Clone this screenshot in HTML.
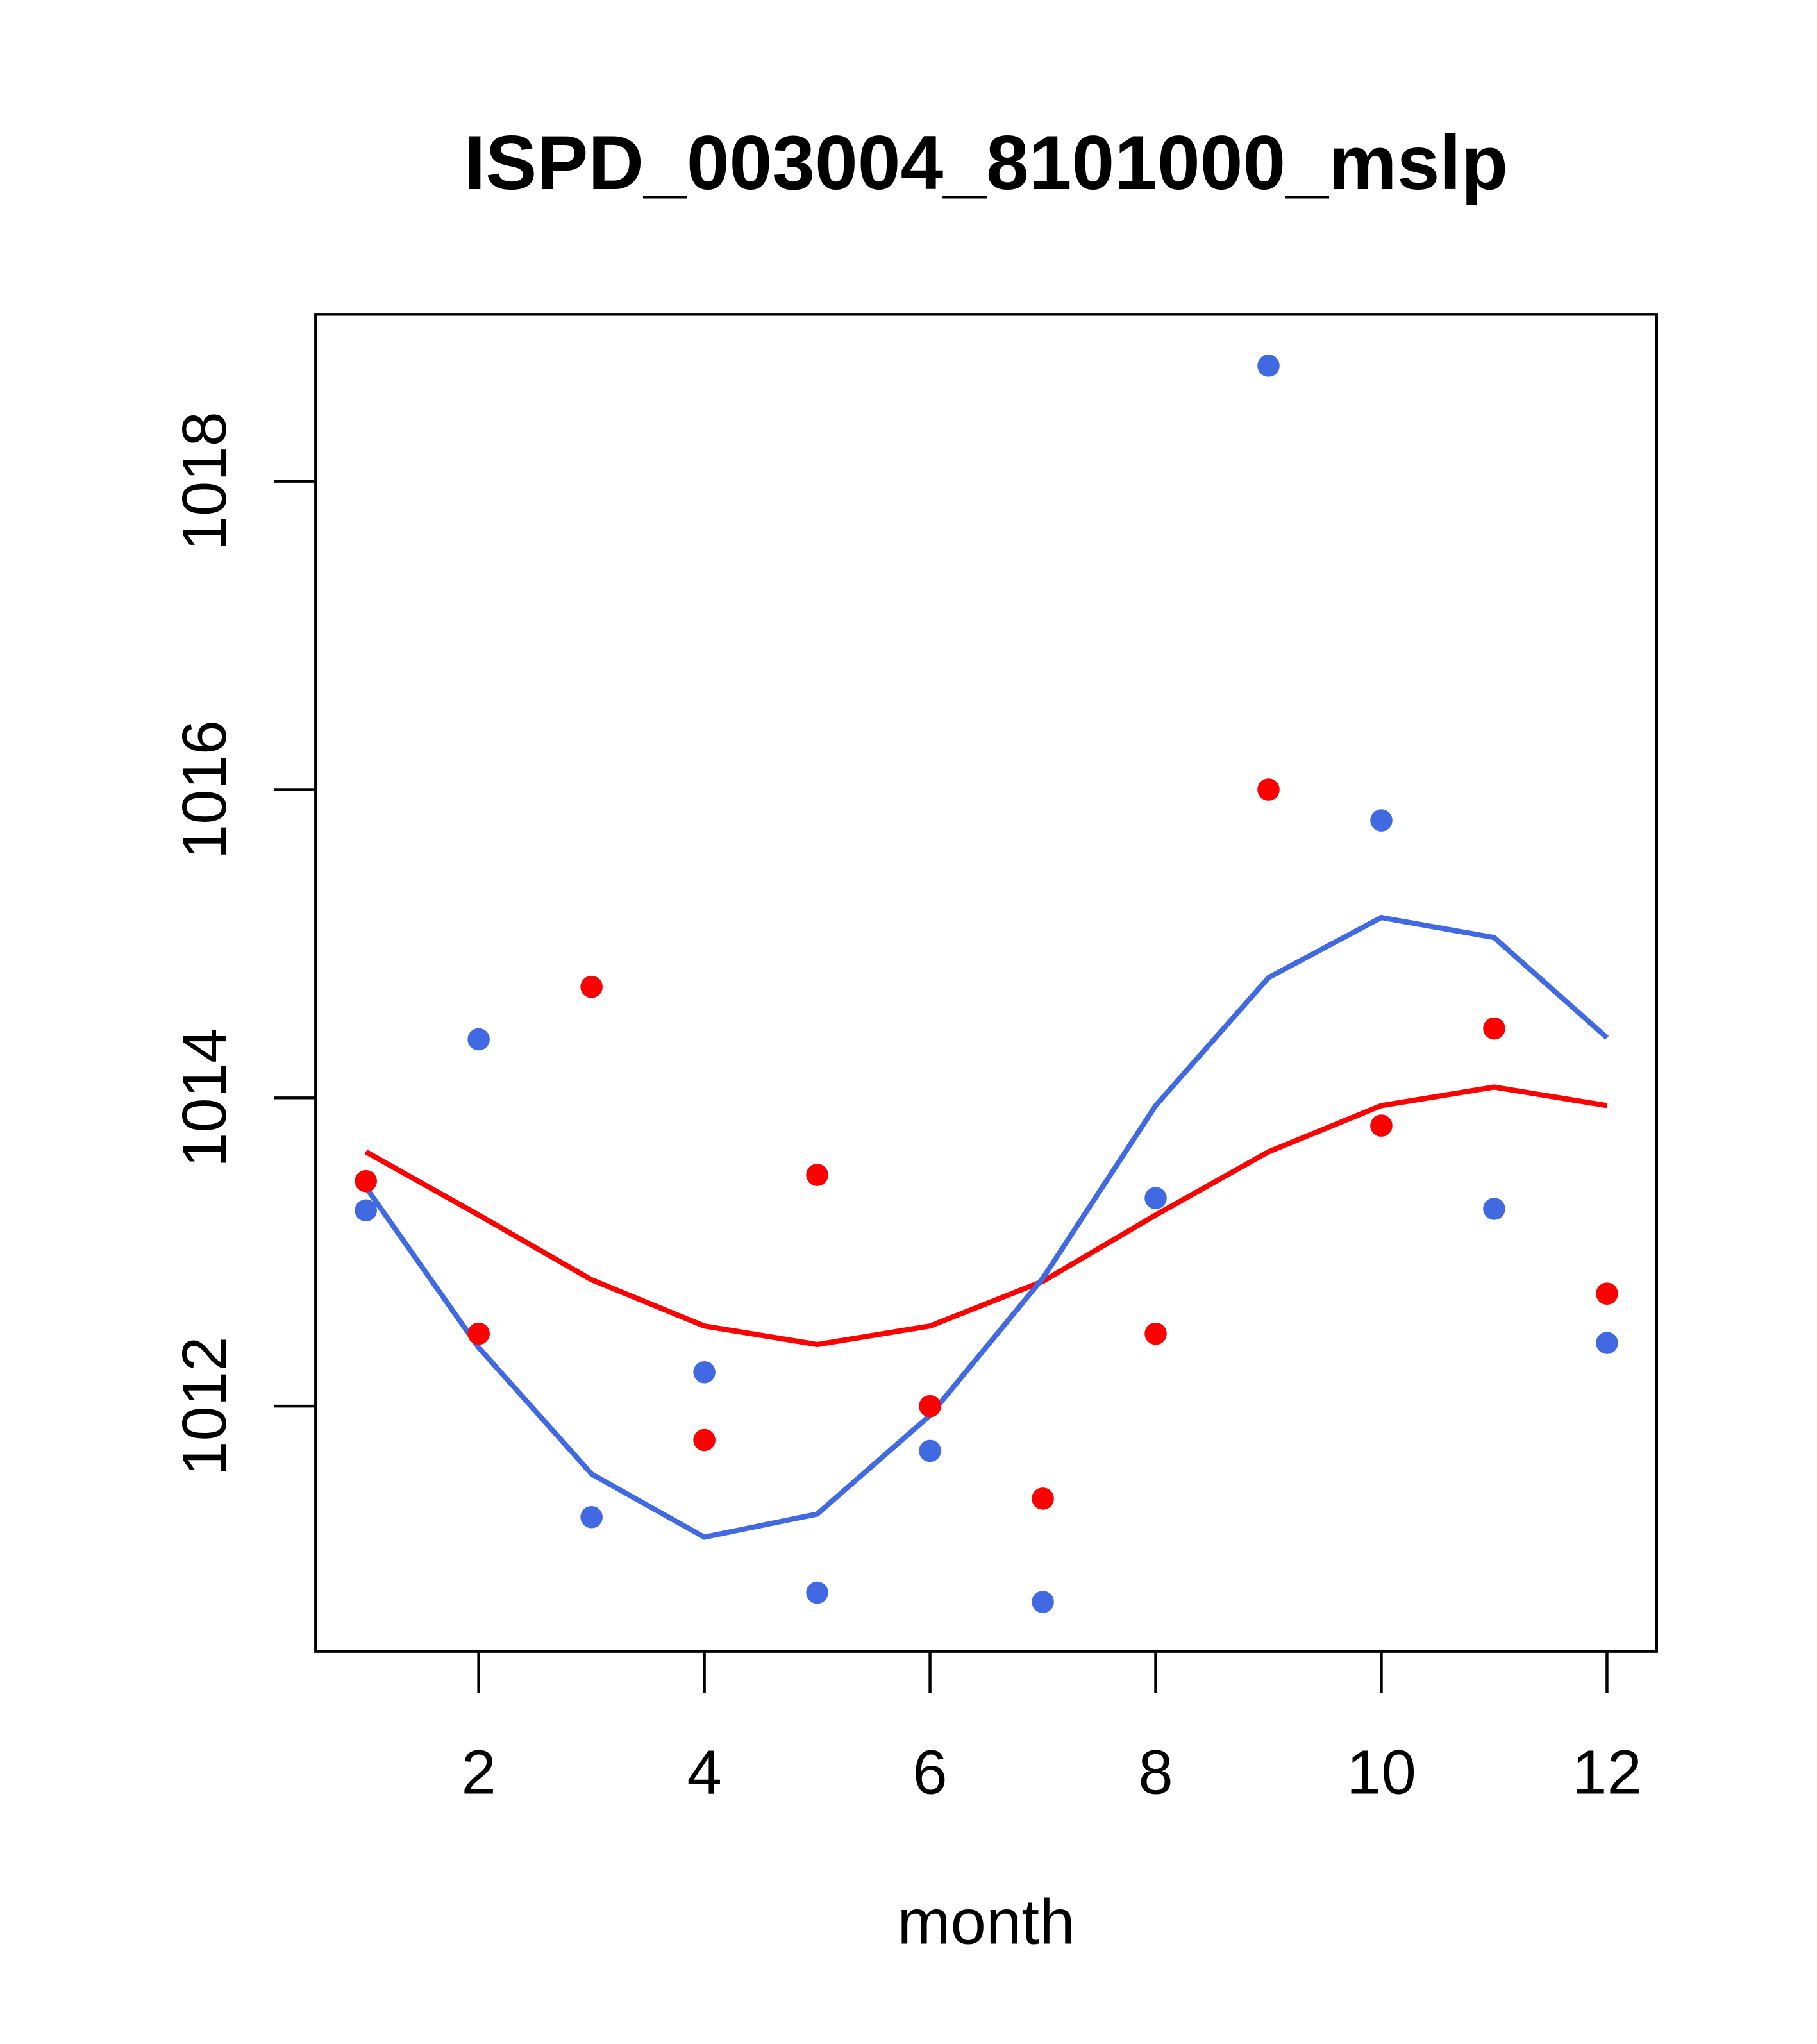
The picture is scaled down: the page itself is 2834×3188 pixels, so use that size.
<!DOCTYPE html>
<html><head><meta charset="utf-8"><style>
html,body{margin:0;padding:0;background:#fff;}
svg{display:block;}
text{font-family:"Liberation Sans",Arial,sans-serif;}
</style></head><body>
<svg id="chart" width="2834" height="3188" viewBox="0 0 1393 1567" xmlns="http://www.w3.org/2000/svg">
<rect width="1393" height="1567" fill="#fff"/>
<text x="756" y="145" text-anchor="middle" font-size="59" font-weight="bold">ISPD_003004_8101000_mslp</text>
<rect x="242" y="241" width="1028" height="1025" fill="none" stroke="#000" stroke-width="2.2"/>
<text x="756" y="1490" text-anchor="middle" font-size="49">month</text>
<g id="axes"></g>
<g id="marks"></g>
</svg>
<script>
const months = [1,2,3,4,5,6,7,8,9,10,11,12];
const redPoints = [1013.46,1012.47,1014.72,1011.78,1013.50,1012.00,1011.40,1012.47,1016.00,1013.82,1014.45,1012.73];
const bluePoints = [1013.27,1014.38,1011.28,1012.22,1010.79,1011.71,1010.73,1013.35,1018.75,1015.80,1013.28,1012.41];
const redLine = [1013.65,1013.24,1012.82,1012.52,1012.40,1012.52,1012.81,1013.24,1013.65,1013.95,1014.07,1013.95];
const blueLine = [1013.42,1012.38,1011.56,1011.15,1011.30,1011.94,1012.83,1013.95,1014.78,1015.17,1015.04,1014.39];
const xTicks = [2,4,6,8,10,12];
const yTicks = [1012,1014,1016,1018];

const NS = "http://www.w3.org/2000/svg";
function xs(m){ return 367 + (m-2)*86.5; }
function ys(v){ return 1078 - (v-1012)*118.17; }
function mk(tag, attrs, parent){
  const e = document.createElementNS(NS, tag);
  for (const k in attrs) e.setAttribute(k, attrs[k]);
  parent.appendChild(e); return e;
}
const axes = document.getElementById('axes');
const marks = document.getElementById('marks');
xTicks.forEach(t=>{
  const l = mk('line',{x1:xs(t),x2:xs(t),y1:1266,y2:1298,stroke:'#000','stroke-width':2.2},axes);
  
  
  const tx = mk('text',{x:xs(t),y:1375,'text-anchor':'middle','font-size':48},axes);
  tx.textContent = t;
  
  
});
yTicks.forEach(t=>{
  const l = mk('line',{x1:210,x2:242,y1:ys(t),y2:ys(t),stroke:'#000','stroke-width':2.2},axes);
  
  
  const tx = mk('text',{x:0,y:0,'text-anchor':'middle','font-size':48,transform:`translate(173,${ys(t)}) rotate(-90)`},axes);
  tx.textContent = t;
  
  
});
function line(vals, color, name){
  const p = mk('polyline',{points: vals.map((v,i)=>xs(months[i])+','+ys(v)).join(' '),fill:'none',stroke:color,'stroke-width':4},marks);
  
  
}
function pts(vals, color, name){
  vals.forEach((v,i)=>{
    const c = mk('circle',{cx:xs(months[i]),cy:ys(v),r:8.5,fill:color},marks);
    
    
  });
}
line(redLine,'#ff0000','red-smooth-line');
line(blueLine,'#4169e1','blue-smooth-line');
pts(redPoints,'#ff0000','red-point');
pts(bluePoints,'#4169e1','blue-point');
</script>
</body></html>
